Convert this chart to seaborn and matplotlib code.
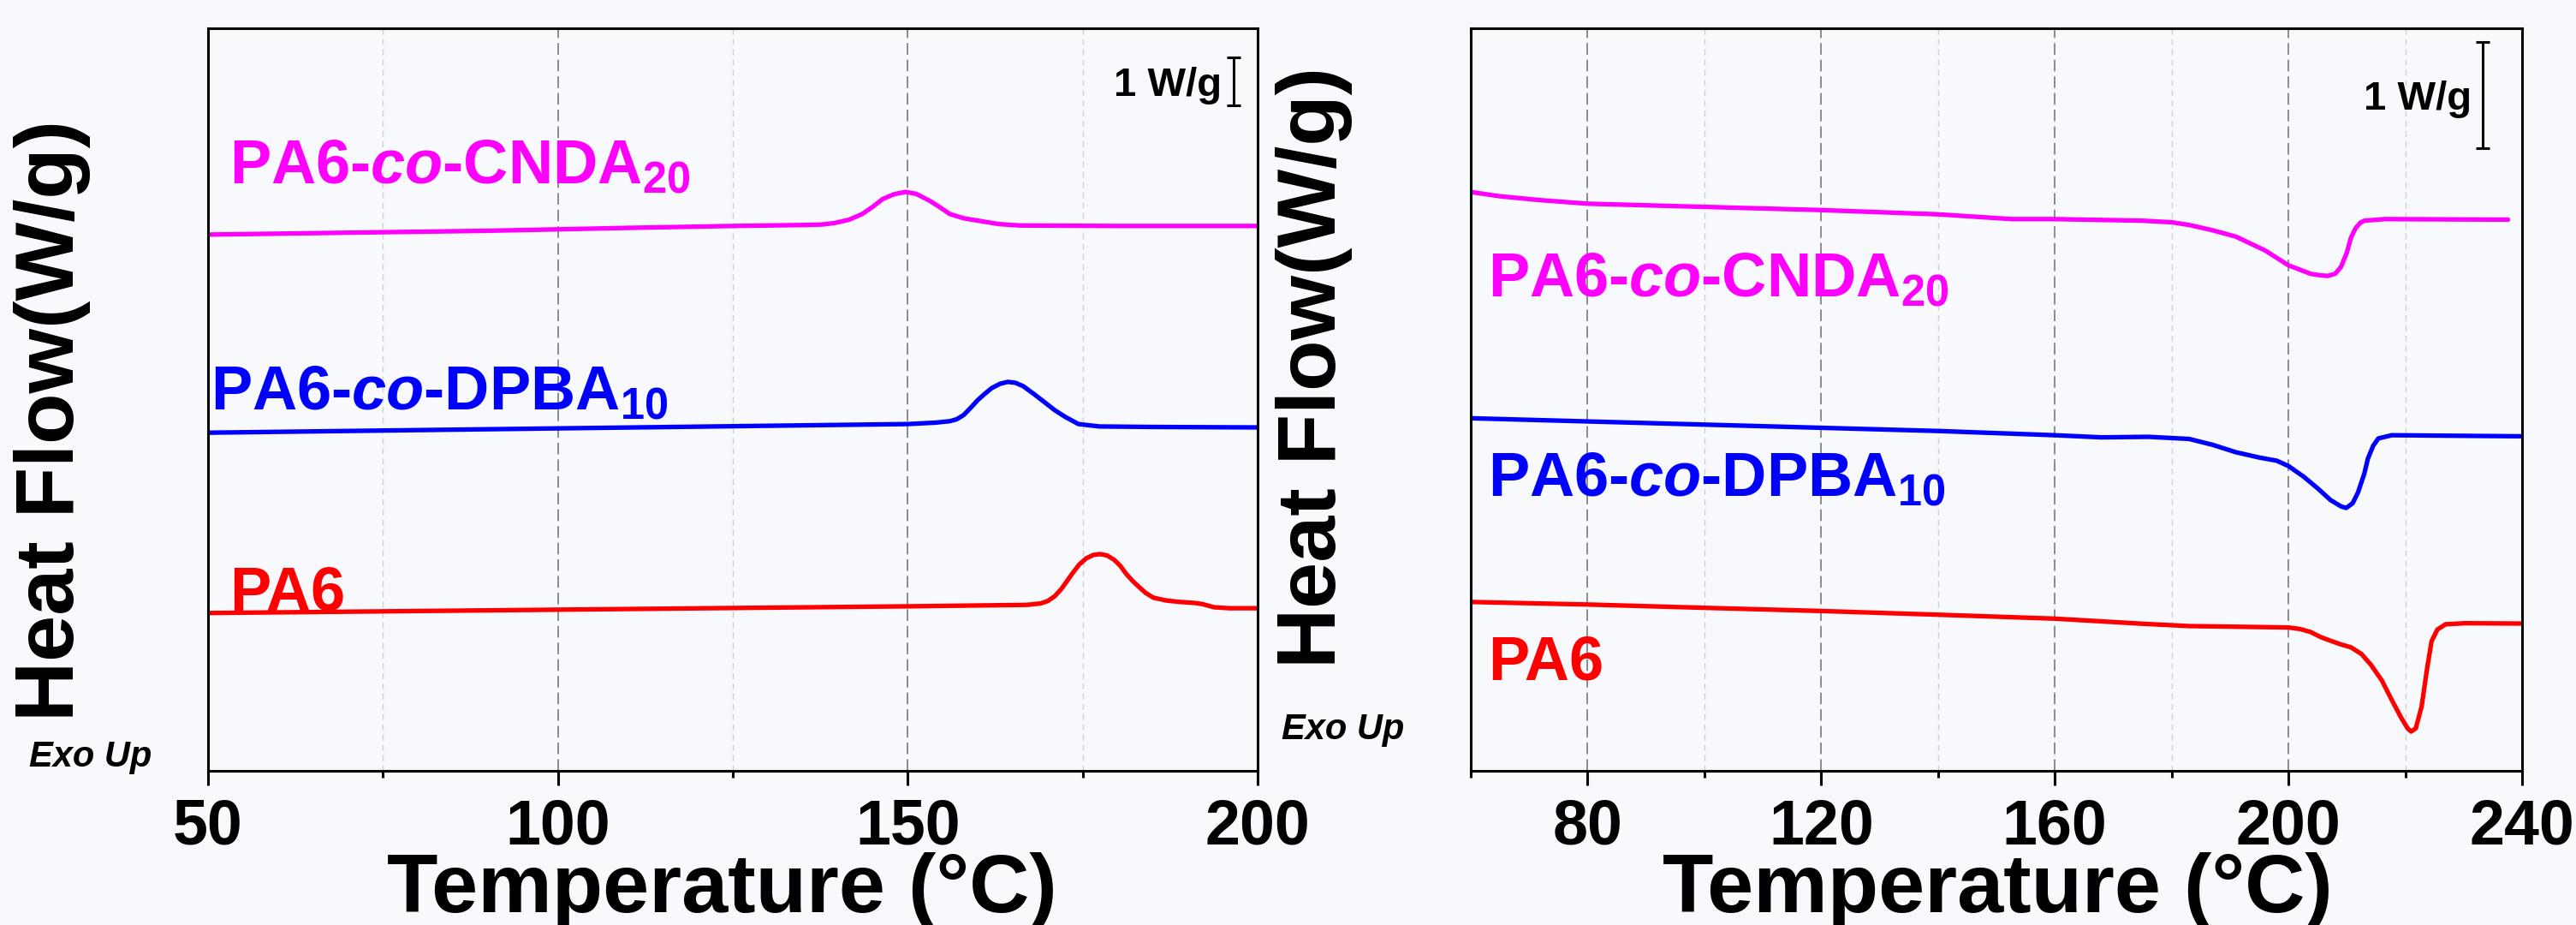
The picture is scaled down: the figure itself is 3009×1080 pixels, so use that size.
import numpy as np
import pandas as pd
import matplotlib
matplotlib.use("Agg")
import matplotlib.pyplot as plt
import seaborn as sns

# ---------------- data ----------------
# Left panel: cooling scans (exotherm up), heat flow in W/g incl. vertical offsets
left_T_cnda = [50, 70, 90, 110, 125, 135, 137.7, 139.5, 141.6, 143.5, 145, 146.4, 148, 149.7,
               151.2, 153.2, 154.6, 156, 158, 160.9, 163, 166, 180, 200]
left_HF_cnda = [11.18, 11.22, 11.26, 11.32, 11.36, 11.38, 11.39, 11.42, 11.49, 11.61, 11.76, 11.92,
                12.02, 12.07, 12.03, 11.88, 11.75, 11.61, 11.52, 11.45, 11.40, 11.37, 11.36, 11.36]

left_T_dpba = [50, 100, 150, 154, 156, 157, 158, 159, 160, 161, 162, 163.2, 164.3, 165.4, 166.5,
               168, 169.6, 171, 172.5, 174.4, 177.4, 185, 200]
left_HF_dpba = [7.05, 7.14, 7.23, 7.26, 7.29, 7.33, 7.42, 7.57, 7.73, 7.86, 7.98, 8.07, 8.11, 8.09,
                8.02, 7.86, 7.68, 7.52, 7.38, 7.23, 7.18, 7.17, 7.16]

left_T_pa6 = [50, 100, 150, 167, 169, 170, 171, 172, 173.5, 174.5, 175.5, 176.5, 177.5, 178.5, 179.5,
              180.4, 181.2, 182.2, 183, 184, 185.1, 187, 189, 191, 192, 193.8, 196, 200]
left_HF_pa6 = [3.29, 3.36, 3.43, 3.46, 3.49, 3.54, 3.64, 3.80, 4.11, 4.30, 4.43, 4.50, 4.52, 4.49,
               4.40, 4.27, 4.11, 3.95, 3.84, 3.71, 3.61, 3.55, 3.52, 3.50, 3.48, 3.41, 3.39, 3.39]

# Right panel: heating scans
right_T_cnda = [60, 65, 71.6, 80, 100, 120, 140, 152.7, 160, 175, 180, 183, 187, 191, 196, 200,
                203.8, 205.5, 206.7, 208, 209, 210, 210.7, 211.5, 212.3, 213, 216.5, 237.6]
right_HF_cnda = [5.45, 5.41, 5.375, 5.34, 5.31, 5.28, 5.24, 5.195, 5.195, 5.18, 5.165, 5.14, 5.09,
                 5.03, 4.90, 4.76, 4.68, 4.665, 4.66, 4.68, 4.745, 4.88, 5.02, 5.11, 5.16, 5.18,
                 5.195, 5.19]

right_T_dpba = [60, 80, 100, 120, 140, 160, 168, 176, 183, 187, 191, 195, 198, 200, 202.6, 205,
                207.2, 209, 209.9, 211, 211.9, 213, 213.6, 214.5, 215.4, 217.7, 239.7]
right_HF_dpba = [3.32, 3.29, 3.26, 3.23, 3.20, 3.16, 3.14, 3.145, 3.125, 3.07, 3.00, 2.95, 2.92,
                 2.87, 2.77, 2.66, 2.55, 2.49, 2.475, 2.52, 2.62, 2.80, 2.94, 3.06, 3.13, 3.16, 3.15]

right_T_pa6 = [60, 80, 100, 120, 140, 160, 175, 183, 200, 202, 203.8, 205.5, 207.2, 209, 210.7,
               212.5, 214.1, 216, 217.6, 219.3, 220.4, 221, 221.8, 222.8, 223.7, 224.5, 225.5,
               226.9, 230.3, 239.7]
right_HF_pa6 = [1.59, 1.566, 1.535, 1.505, 1.47, 1.433, 1.385, 1.363, 1.35, 1.335, 1.307, 1.26,
                1.225, 1.19, 1.163, 1.10, 1.0, 0.85, 0.677, 0.50, 0.40, 0.37, 0.40, 0.605, 0.95,
                1.22, 1.33, 1.38, 1.39, 1.387]

labels = ["PA6-$\\it{co}$-CNDA$_{20}$", "PA6-$\\it{co}$-DPBA$_{10}$", "PA6"]
colors = ["#ff00ff", "#0000ff", "#ff0000"]

left_xticks = [50, 100, 150, 200]
left_xminor = [75, 125, 175]
right_xticks = [80, 120, 160, 200, 240]
right_xminor = [60, 100, 140, 180, 220]

# ---------------- style ----------------
BG = "#f7f9fc"
sns.set_theme(style="ticks")
plt.rcParams["font.family"] = ["Liberation Sans", "DejaVu Sans"]
plt.rcParams["font.weight"] = "bold"
plt.rcParams["text.color"] = "black"
plt.rcParams["axes.labelcolor"] = "black"
plt.rcParams["xtick.color"] = "black"
plt.rcParams["ytick.color"] = "black"
plt.rcParams["mathtext.fontset"] = "custom"
plt.rcParams["mathtext.rm"] = "Liberation Sans:bold"
plt.rcParams["mathtext.it"] = "Liberation Sans:italic:bold"
plt.rcParams["mathtext.bf"] = "Liberation Sans:bold"

W, H = 3009, 1080
fig = plt.figure(figsize=(W / 100, H / 100), dpi=100, facecolor=BG)
axL = fig.add_axes([243 / W, 180 / H, 1226 / W, 867 / H])
axR = fig.add_axes([1718 / W, 180 / H, 1228 / W, 867 / H])


def setup(ax, xlim, ylim, major, minor):
    ax.set_facecolor(BG)
    ax.set_xlim(*xlim)
    ax.set_ylim(*ylim)
    ax.set_xticks(major)
    ax.set_xticks(minor, minor=True)
    ax.set_yticks([])
    ax.set_axisbelow(True)
    ax.grid(which="major", axis="x", color="#8c8c8c", lw=1.4, ls=(0, (7, 3)))
    ax.grid(which="minor", axis="x", color="#d0d0d0", lw=1.0, ls=(0, (5, 3.6)))
    ax.grid(which="major", axis="y", visible=False)
    for s in ax.spines.values():
        s.set_linewidth(2.2)
        s.set_color("black")
    ax.tick_params(axis="x", which="major", direction="out", length=12, width=2.2,
                   labelsize=53, pad=11, colors="black")
    ax.tick_params(axis="x", which="minor", direction="out", length=5.5, width=2.2,
                   colors="black")
    for lab in ax.get_xticklabels():
        lab.set_fontweight("bold")
    ax.set_xlabel("Temperature (°C)", fontsize=70, fontweight="bold", color="black")
    ax.set_ylabel("Heat Flow(W/g)", fontsize=70, fontweight="bold", color="black")


setup(axL, (50, 200), (0, 867 / 56), left_xticks, left_xminor)
setup(axR, (60, 240), (0, 867 / 124), right_xticks, right_xminor)

left_sets = [(left_T_cnda, left_HF_cnda), (left_T_dpba, left_HF_dpba), (left_T_pa6, left_HF_pa6)]
right_sets = [(right_T_cnda, right_HF_cnda), (right_T_dpba, right_HF_dpba), (right_T_pa6, right_HF_pa6)]

for ax, sets in ((axL, left_sets), (axR, right_sets)):
    for (T, HF), c in zip(sets, colors):
        sns.lineplot(x=T, y=HF, ax=ax, color=c, linewidth=3.8, sort=False,
                     estimator=None, legend=False)

# curve labels (axes coords, baseline)
left_lab_pos = [(0.0204, 0.7912), (0.0024, 0.4867), (0.0204, 0.2168)]
right_lab_pos = [(0.0163, 0.6390), (0.0163, 0.3702), (0.0163, 0.1223)]
for ax, pos in ((axL, left_lab_pos), (axR, right_lab_pos)):
    for (x, y), lab, c in zip(pos, labels, colors):
        ax.text(x, y, lab, transform=ax.transAxes, color=c, fontsize=52,
                fontweight="bold", ha="left", va="baseline")

# 1 W/g scale bars (drawn in data units)
axL.errorbar([196.6], [14.375], yerr=0.5, color="black", elinewidth=2.2,
             capsize=5.5, capthick=2.2, fmt="none")
axL.text(0.9657, 0.9089, "1 W/g", transform=axL.transAxes, fontsize=34,
         fontweight="bold", ha="right", va="baseline", color="black")
axR.errorbar([233.3], [6.363], yerr=0.5, color="black", elinewidth=2.2,
             capsize=5.8, capthick=2.2, fmt="none")
axR.text(0.952, 0.8904, "1 W/g", transform=axR.transAxes, fontsize=34,
         fontweight="bold", ha="right", va="baseline", color="black")

# axis label placement
axL.xaxis.set_label_coords(0.4894, -0.1096)
axR.xaxis.set_label_coords(0.5008, -0.1096)
axL.yaxis.set_label_coords(-0.1117, 0.4723)
axR.yaxis.set_label_coords(-0.1124, 0.5427)

# Exo Up annotations
fig.text(34 / W, (H - 895) / H, "Exo Up", fontsize=30, fontweight="bold",
         style="italic", ha="left", va="baseline", color="black")
fig.text(1497 / W, (H - 863) / H, "Exo Up", fontsize=30, fontweight="bold",
         style="italic", ha="left", va="baseline", color="black")

fig.savefig("out.png", dpi=100, facecolor=BG)
